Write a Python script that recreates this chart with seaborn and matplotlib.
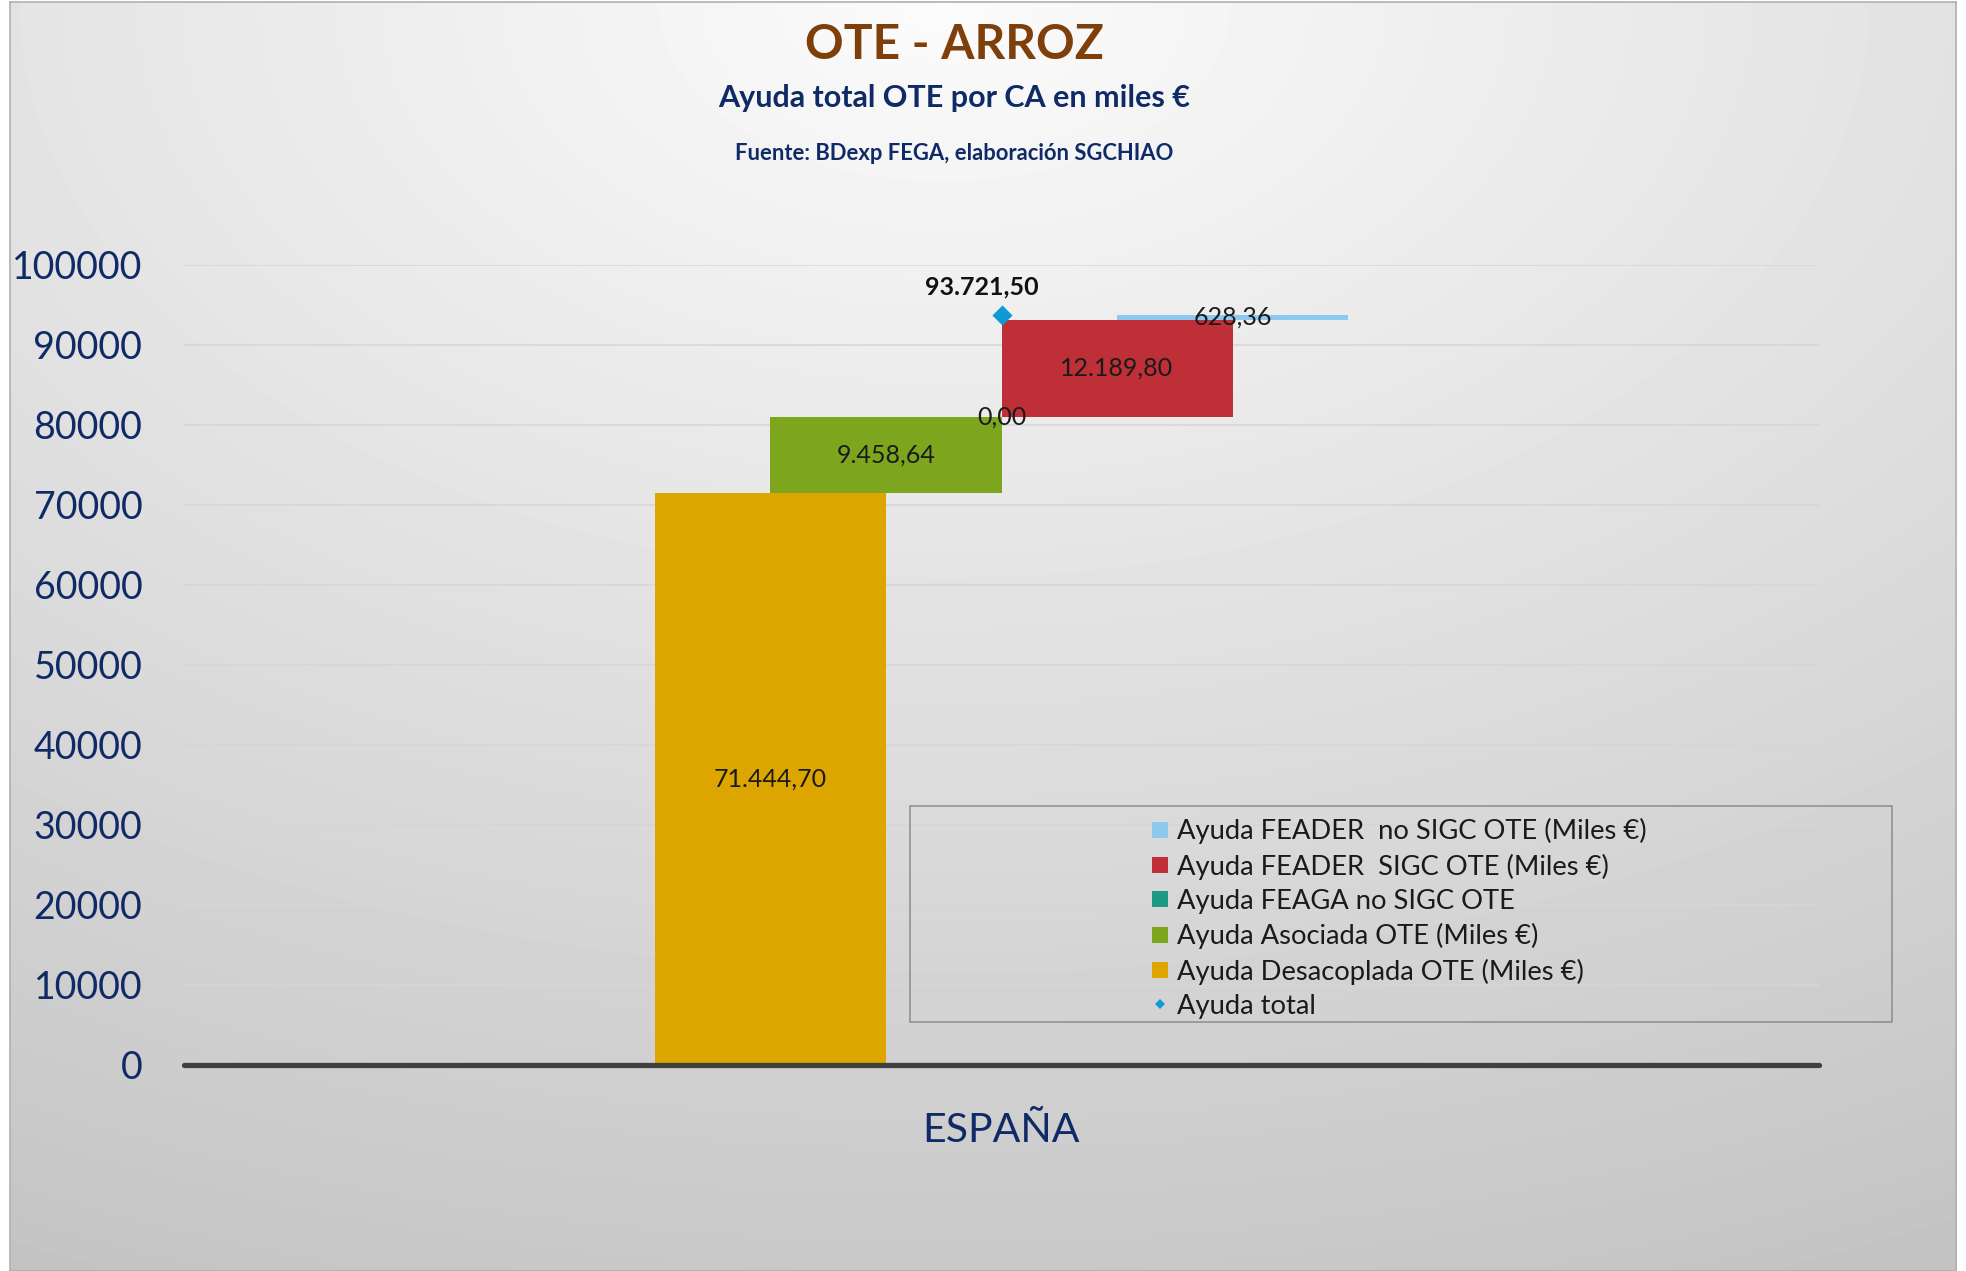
import numpy as np
import pandas as pd
import seaborn as sns
import matplotlib.pyplot as plt
from matplotlib.lines import Line2D
from matplotlib.patches import Rectangle

# data
categories = ["ESPAÑA"]
series_names = [
    "Ayuda Desacoplada OTE (Miles €)",
    "Ayuda Asociada OTE (Miles €)",
    "Ayuda FEAGA no SIGC OTE",
    "Ayuda FEADER  SIGC OTE (Miles €)",
    "Ayuda FEADER  no SIGC OTE (Miles €)",
]
series_values = [71444.70, 9458.64, 0.00, 12189.80, 628.36]
series_colors = ["#DCA500", "#7EA51E", "#1C9A86", "#BE2F37", "#8DC8EE"]
total_name = "Ayuda total"
total_value = 93721.50
total_color = "#0E9AD5"
y_ticks = [0, 10000, 20000, 30000, 40000, 50000, 60000, 70000, 80000, 90000, 100000]

NAVY = "#0F2A66"
W, H = 1966, 1271


def es_num(v):
    s = f"{v:,.2f}"
    return s.replace(",", "X").replace(".", ",").replace("X", ".")


sns.set_style("white")
plt.rcParams["font.family"] = ["Lato", "DejaVu Sans"]

fig = plt.figure(figsize=(W / 100, H / 100), dpi=100)
fig.patch.set_facecolor("white")

# gradient background like the office chart area
bg = fig.add_axes([10 / W, 0, 1 - 20 / W, 1 - 2 / H], zorder=-10)
gx, gy = np.meshgrid(np.linspace(0, 1, 400), np.linspace(0, 1, 260))
r = np.sqrt(((gx - 0.48) * 1.0) ** 2 + (gy * 1.05) ** 2)
shade = np.clip(0.985 - 0.19 * r, 0.76, 1.0)
bg.imshow(shade, cmap="gray", vmin=0, vmax=1, aspect="auto",
          extent=[0, 1, 1, 0], interpolation="bicubic")
bg.set_xticks([])
bg.set_yticks([])
for sp in bg.spines.values():
    sp.set_color("#B0B0B0")
    sp.set_linewidth(1.2)

ax = fig.add_axes([184 / W, 1 - 1064.5 / H, (1819 - 184) / W, 800 / H])
ax.set_facecolor("none")

bar_w = 0.1413
bottoms = np.concatenate([[0.0], np.cumsum(series_values)[:-1]])
n = len(series_values)
for k in range(n):
    pos = (k - (n - 1) / 2) * bar_w / 2
    df = pd.DataFrame({"x": [pos], "y": [series_values[k]]})
    sns.barplot(data=df, x="x", y="y", native_scale=True, width=bar_w,
                bottom=bottoms[k], color=series_colors[k], saturation=1,
                errorbar=None, ax=ax, zorder=3, linewidth=0)
    ax.text(pos, bottoms[k] + series_values[k] / 2, es_num(series_values[k]),
            ha="center", va="center", fontsize=18, color="#1A1A1A", zorder=6)

sns.scatterplot(x=[0.0], y=[total_value], marker="D", s=105, color=total_color,
                linewidth=0, ax=ax, zorder=7, clip_on=False)
ax.annotate(es_num(total_value), (0.0, total_value), xytext=(-14, 20),
            textcoords="offset points", ha="center", va="center",
            fontsize=18, fontweight="bold", color="#111111")

ax.set_xlim(-0.5, 0.5)
ax.set_ylim(0, 100000)
ax.set_yticks(y_ticks)
ax.set_yticklabels([str(t) for t in y_ticks])
ax.set_xticks([0.0])
ax.set_xticklabels(categories)
ax.set_xlabel("")
ax.set_ylabel("")
ax.tick_params(axis="y", labelsize=27, labelcolor=NAVY, length=0, pad=30)
ax.tick_params(axis="x", labelsize=29.5, labelcolor=NAVY, length=0, pad=34)
ax.yaxis.grid(True, color="#D6D6D6", linewidth=1.1, zorder=0)
ax.xaxis.grid(False)
ax.set_axisbelow(True)
for sp in ax.spines.values():
    sp.set_visible(False)
ax.axhline(0, color="#3F3F3F", linewidth=3.8, zorder=8, clip_on=False)

# titles
fig.text(954 / W, 1 - 45 / H, "OTE - ARROZ", ha="center", va="center",
         fontsize=34.5, fontweight="bold", color="#7F3F0B")
fig.text(954 / W, 1 - 98 / H, "Ayuda total OTE por CA en miles €", ha="center",
         va="center", fontsize=22, fontweight="bold", color=NAVY)
fig.text(954 / W, 1 - 153 / H, "Fuente: BDexp FEGA, elaboración SGCHIAO",
         ha="center", va="center", fontsize=15.8, fontweight="bold", color=NAVY)

# legend (reversed order, total last)
handles = []
for k in range(n - 1, -1, -1):
    handles.append(Line2D([], [], linestyle="none", marker="s", markersize=11,
                          markerfacecolor=series_colors[k], markeredgewidth=0,
                          label=series_names[k]))
handles.append(Line2D([], [], linestyle="none", marker="D", markersize=5.5,
                      markerfacecolor=total_color, markeredgewidth=0,
                      label=total_name))
fig.legend(handles=handles, loc="upper left",
           bbox_to_anchor=(1150 / W, 1 - 818 / H), frameon=False,
           fontsize=19.7, handlelength=0.7, handletextpad=0.3,
           labelspacing=0.34, borderpad=0, borderaxespad=0, labelcolor="#1A1A1A")
fig.patches.append(Rectangle((910 / W, 1 - 1022 / H), (1892 - 910) / W, 216 / H,
                             transform=fig.transFigure, fill=False,
                             edgecolor="#8C8C8C", linewidth=1.1, zorder=9))

fig.savefig("out.png", dpi=100)
plt.close(fig)
